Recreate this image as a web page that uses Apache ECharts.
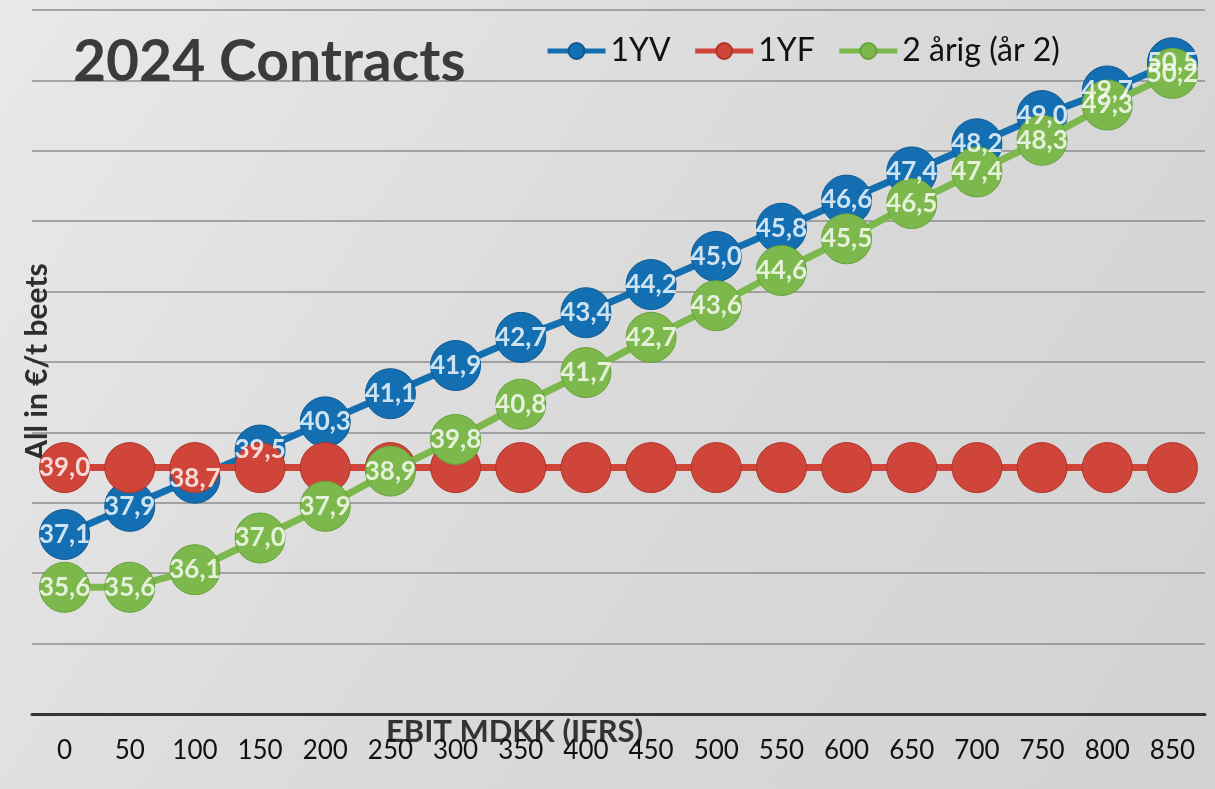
<!DOCTYPE html>
<html>
<head>
<meta charset="utf-8">
<script src="https://cdn.jsdelivr.net/npm/echarts@6/dist/echarts.min.js"></script>
<style>
  html, body { margin: 0; padding: 0; }
  #chart { width: 1215px; height: 789px; }
</style>
</head>
<body>
<div id="chart"></div>
<script>
// EBIT levels on the x axis
const ebitLevels = ["0", "50", "100", "150", "200", "250", "300", "350", "400",
  "450", "500", "550", "600", "650", "700", "750", "800", "850"];

// prices in EUR per tonne beets
const yv1 = [37.1, 37.9, 38.7, 39.5, 40.3, 41.1, 41.9, 42.7, 43.4,
  44.2, 45.0, 45.8, 46.6, 47.4, 48.2, 49.0, 49.7, 50.5];
const yf1 = [39.0, 39.0, 39.0, 39.0, 39.0, 39.0, 39.0, 39.0, 39.0,
  39.0, 39.0, 39.0, 39.0, 39.0, 39.0, 39.0, 39.0, 39.0];
const aarig2 = [35.6, 35.6, 36.1, 37.0, 37.9, 38.9, 39.8, 40.8, 41.7,
  42.7, 43.6, 44.6, 45.5, 46.5, 47.4, 48.3, 49.3, 50.2];

const names = ["1YV", "1YF", "2 årig (år 2)"];
const colors = ["#136fb1", "#d0453a", "#7cb84b"];
const borders = ["#0d5a93", "#b23328", "#66a23a"];

const fmt = (v) => v.toFixed(1).replace(".", ",");

function lineSeries(name, data, i) {
  return {
    name: name,
    type: "line",
    data: data,
    z: 2 + i,
    symbol: "circle",
    symbolSize: 50,
    lineStyle: { color: colors[i], width: 7 },
    itemStyle: { color: colors[i], borderColor: borders[i], borderWidth: 1 },
    label: { show: false },
  };
}

// labels drawn in a separate layer so they stay above every marker
function labelSeries(data, i, onlyFirst) {
  return {
    name: "lbl" + i,
    type: "scatter",
    data: data,
    z: 20,
    silent: true,
    symbolSize: 50,
    itemStyle: { color: "rgba(0,0,0,0)" },
    label: {
      show: true,
      position: "inside",
      color: "#ffffff",
      fontFamily: "Lato",
      fontWeight: "bold",
      fontSize: 26,
      formatter: (p) => (onlyFirst && p.dataIndex > 0 ? "" : fmt(p.value)),
    },
  };
}

const chart = echarts.init(document.getElementById("chart"));

const option = {
  animation: false,
  backgroundColor: new echarts.graphic.LinearGradient(0, 0, 1, 1, [
    { offset: 0, color: "#e9e9e9" },
    { offset: 0.5, color: "#dadada" },
    { offset: 1, color: "#d2d2d2" },
  ]),
  title: {
    text: "2024 Contracts",
    left: 68,
    top: 29,
    textStyle: {
      fontFamily: "Lato",
      fontWeight: "bold",
      fontSize: 57,
      color: "#3b3b3b",
    },
  },
  legend: {
    data: names,
    left: 540,
    top: 30,
    itemWidth: 58,
    itemHeight: 20,
    itemGap: 22,
    lineStyle: { width: 5 },
    textStyle: { fontFamily: "Lato", fontSize: 32, color: "#111111" },
  },
  grid: { left: 32, right: 10, top: 10, bottom: 75, outerBoundsMode: "none" },
  xAxis: {
    type: "category",
    data: ebitLevels,
    boundaryGap: true,
    name: "EBIT MDKK (IFRS)",
    nameLocation: "middle",
    nameGap: 2,
    nameMoveOverlap: false,
    nameTextStyle: {
      fontFamily: "Lato",
      fontWeight: "bold",
      fontSize: 31,
      color: "#333333",
      padding: [0, 208, 0, 0],
    },
    axisLine: { lineStyle: { color: "#343434", width: 3 } },
    axisTick: { show: false },
    axisLabel: { fontFamily: "Lato", fontSize: 26, color: "#111111", margin: 24 },
  },
  yAxis: {
    type: "value",
    min: 32,
    max: 52,
    interval: 2,
    name: "All in €/t beets",
    nameLocation: "middle",
    nameRotate: 90,
    nameGap: -20,
    nameMoveOverlap: false,
    nameTextStyle: {
      fontFamily: "Lato",
      fontWeight: "bold",
      fontSize: 30,
      color: "#2e2e2e",
    },
    axisLine: { show: false },
    axisTick: { show: false },
    axisLabel: { show: false },
    splitLine: { lineStyle: { color: "#8e8e8e", width: 1.5 } },
  },
  series: [
    lineSeries(names[0], yv1, 0),
    lineSeries(names[1], yf1, 1),
    lineSeries(names[2], aarig2, 2),
    labelSeries(yv1, 0, false),
    labelSeries(yf1, 1, true),
    labelSeries(aarig2, 2, false),
  ],
};

chart.setOption(option);
</script>
</body>
</html>
